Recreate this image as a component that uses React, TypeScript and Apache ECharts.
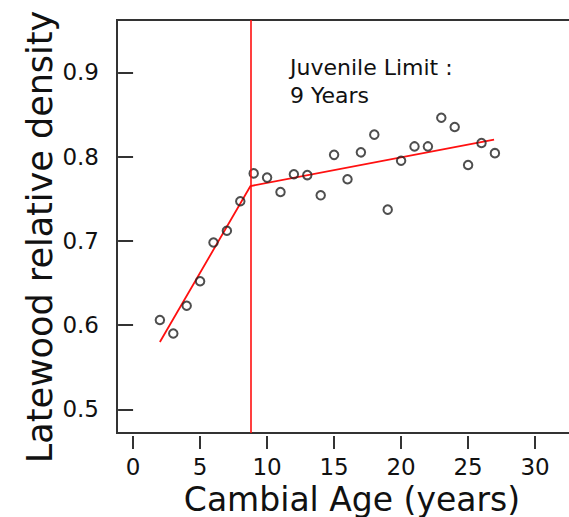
import React, { useEffect, useRef } from "react";
import * as echarts from "echarts";

const ages = [2, 3, 4, 5, 6, 7, 8, 9, 10, 11, 12, 13, 14, 15, 16, 17, 18, 19, 20, 21, 22, 23, 24, 25, 26, 27];
const density = [
  0.606, 0.59, 0.623, 0.652, 0.698, 0.712, 0.747, 0.78, 0.775, 0.758, 0.779, 0.778, 0.754,
  0.802, 0.773, 0.805, 0.826, 0.737, 0.795, 0.812, 0.812, 0.846, 0.835, 0.79, 0.816, 0.804,
];
const fitX = [2, 8.76, 26.94];
const fitY = [0.58, 0.765, 0.82];
const juvenileLimit = 8.76;
const xTicks = [0, 5, 10, 15, 20, 25, 30];
const yTicks = [0.5, 0.6, 0.7, 0.8, 0.9];
const xTitle = "Cambial Age (years)";
const yTitle = "Latewood relative density";
const note = "Juvenile Limit :\n9 Years";

const FONT = "DejaVu Sans";

export default function App() {
  const ref = useRef<HTMLDivElement>(null);
  useEffect(() => {
    document.body.style.margin = "0";
    const chart = echarts.init(ref.current!, null, { renderer: "svg" });
    chart.setOption({
      animation: false,
      backgroundColor: "#fff",
      grid: {
        left: 117,
        top: 20,
        width: 465,
        bottom: 84,
        outerBoundsMode: "none",
        containLabel: false,
        show: true,
        borderColor: "#333",
        borderWidth: 2,
        backgroundColor: "#fff",
      },
      xAxis: {
        type: "value",
        min: -1.2,
        max: 33.5,
        offset: 3,
        splitLine: { show: false },
        axisLine: { show: false },
        axisTick: { show: true, length: 13, customValues: xTicks, lineStyle: { color: "#333", width: 2 } },
        axisLabel: { customValues: xTicks, fontSize: 23, lineHeight: 22, color: "#111", margin: 20, fontFamily: FONT },
      },
      yAxis: {
        type: "value",
        min: 0.472,
        max: 0.962,
        splitLine: { show: false },
        axisLine: { show: false },
        axisTick: { show: true, length: 15, customValues: yTicks, lineStyle: { color: "#333", width: 2 } },
        axisLabel: {
          customValues: yTicks,
          fontSize: 23,
          color: "#111",
          margin: 18,
          fontFamily: FONT,
          formatter: (v: number) => v.toFixed(1),
        },
      },
      series: [
        {
          type: "line",
          data: fitX.map((x, i) => [x, fitY[i]]),
          showSymbol: false,
          lineStyle: { color: "#ff1010", width: 1.8 },
          z: 2,
          markLine: {
            symbol: "none",
            silent: true,
            label: { show: false },
            lineStyle: { color: "#ff1010", width: 1.6, type: "solid" },
            data: [{ xAxis: juvenileLimit }],
          },
        },
        {
          type: "scatter",
          data: ages.map((a, i) => [a, density[i]]),
          symbol: "circle",
          symbolSize: 8.5,
          itemStyle: { color: "rgba(255,255,255,0)", borderColor: "#222", borderWidth: 2 },
          z: 3,
        },
      ],
      graphic: [
        {
          type: "text",
          x: 40,
          y: 237,
          rotation: Math.PI / 2,
          style: { text: yTitle, fontSize: 35, lineHeight: 35, fontFamily: FONT, fill: "#111", align: "center", verticalAlign: "middle" },
        },
        {
          type: "text",
          x: 352,
          y: 499,
          style: { text: xTitle, fontSize: 33, lineHeight: 30, fontFamily: FONT, fill: "#111", align: "center", verticalAlign: "middle" },
        },
        {
          type: "text",
          x: 290,
          y: 53,
          style: { text: note, fontSize: 22, lineHeight: 28, fontFamily: FONT, fill: "#111", align: "left", verticalAlign: "top" },
        },
      ],
    });
    return () => chart.dispose();
  }, []);
  return <div ref={ref} style={{ width: 569, height: 517 }} />;
}
